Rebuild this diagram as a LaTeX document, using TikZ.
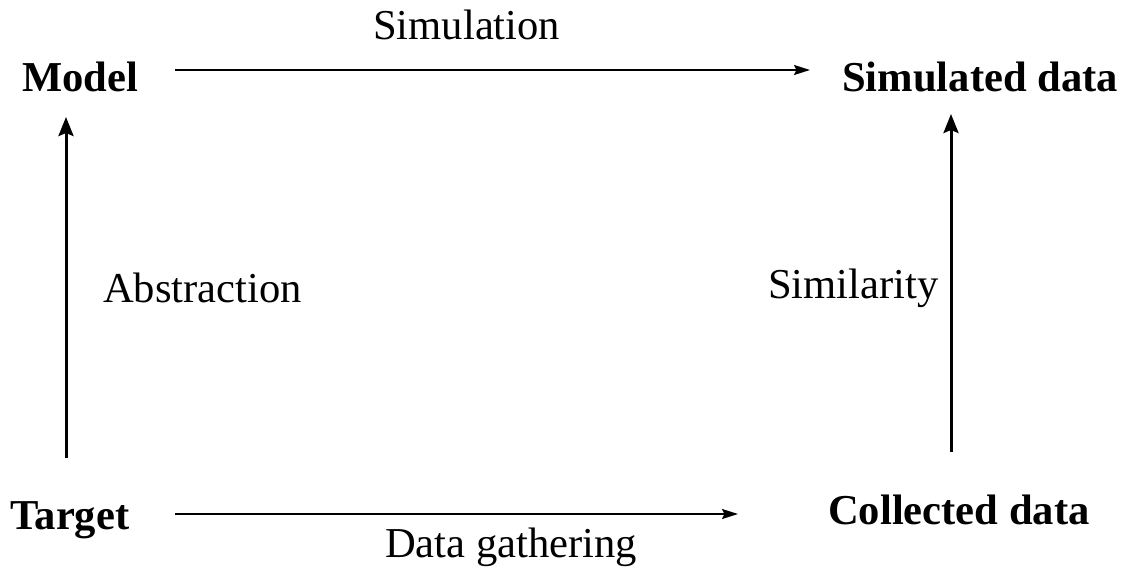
\documentclass[tikz,border=0pt]{standalone}
\usepackage{fontspec}
\setmainfont{Liberation Serif}
\usetikzlibrary{arrows.meta}
\begin{document}
\begin{tikzpicture}[x=1pt,y=1pt,
  term/.style={anchor=base west,inner sep=0pt,font=\fontsize{42.6}{50}\selectfont\bfseries},
  lbl/.style={anchor=base west,inner sep=0pt,font=\fontsize{42.6}{50}\selectfont},
  harr/.style={line width=2pt,-{Stealth[length=16pt,width=10pt,inset=2.5pt]}},
  varr/.style={line width=3pt,-{Stealth[length=19pt,width=15pt,inset=3pt]}}]
  \useasboundingbox (0,0) rectangle (1130,574);
  % the four corners of the cycle
  \node[term] (model)  at (22,482)  {Model};
  \node[term] (sim)    at (842,482) {Simulated data};
  \node[term] (target) at (10,45)   {Target};
  \node[term] (coll)   at (828,50)  {Collected data};
  % arrow ends
  \coordinate (mA) at (175,504);
  \coordinate (sA) at (810,504);
  \coordinate (tA) at (175,60);
  \coordinate (cA) at (738,60);
  \coordinate (tU) at (66,116);
  \coordinate (mD) at (66,457);
  \coordinate (cU) at (951,122);
  \coordinate (sD) at (951,460);
  % connectors
  \draw[harr] (mA) -- (sA);
  \draw[harr] (tA) -- (cA);
  \draw[varr] (tU) -- (mD);
  \draw[varr] (cU) -- (sD);
  % labels
  \node[lbl] (lsim)  at (373,534) {Simulation};
  \node[lbl] (labs)  at (103,272) {Abstraction};
  \node[lbl] (lsimi) at (768,276) {Similarity};
  \node[lbl] (ldata) at (385,17)  {Data gathering};
\end{tikzpicture}
\end{document}
